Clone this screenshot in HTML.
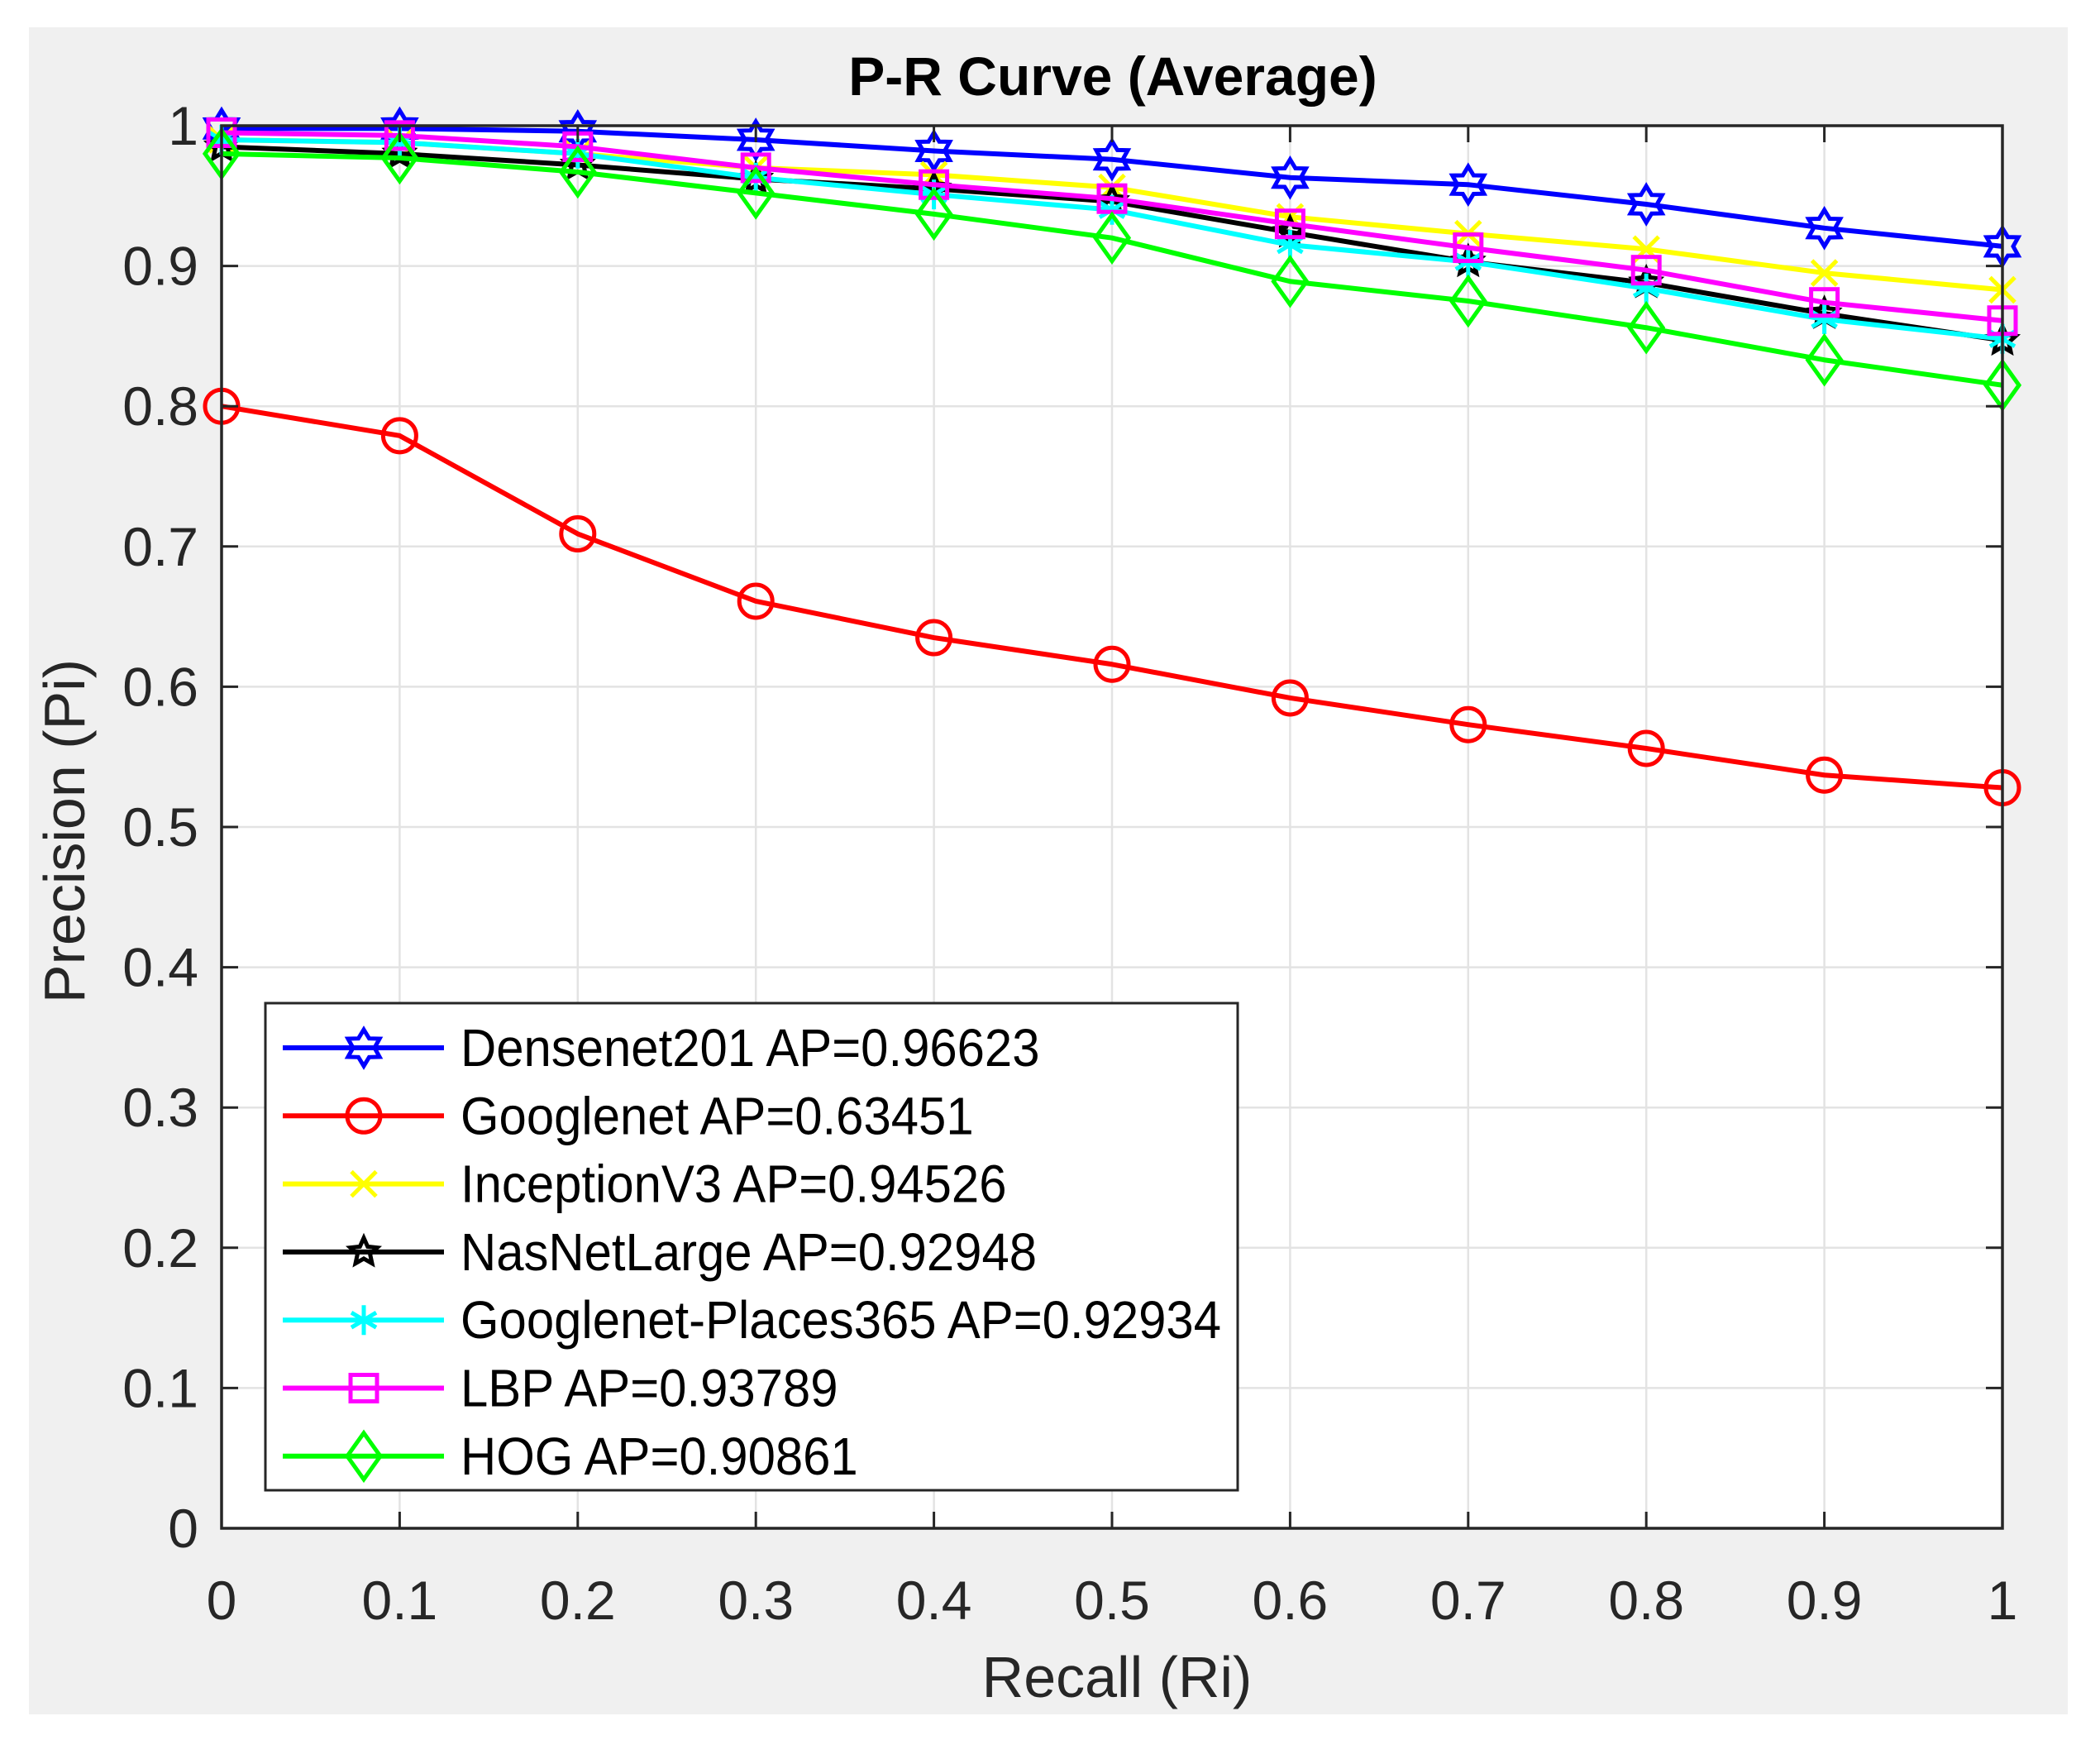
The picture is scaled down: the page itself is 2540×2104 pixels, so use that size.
<!DOCTYPE html>
<html><head><meta charset="utf-8"><style>
html,body{margin:0;padding:0;background:#fff;}
svg{display:block;font-family:"Liberation Sans",Arial,sans-serif;}
</style></head><body>
<svg id="chart" width="2540" height="2104" viewBox="0 0 2540 2104" xmlns="http://www.w3.org/2000/svg">
<rect x="35" y="33" width="2466" height="2040" fill="#f0f0f0"/>
<rect x="268" y="152" width="2154" height="1696" fill="#fff"/>
<g id="grid"></g>
<g id="series"></g>
<rect x="268" y="152" width="2154" height="1696" fill="none" stroke="#262626" stroke-width="3.5"/>
<g id="ticks"></g>
<text x="1346" y="115" text-anchor="middle" font-size="66" font-weight="bold" fill="#000">P-R Curve (Average)</text>
<text x="1351" y="2052" text-anchor="middle" font-size="70" fill="#262626">Recall (Ri)</text>
<text x="0" y="0" transform="translate(102,1005) rotate(-90)" text-anchor="middle" font-size="70" fill="#262626">Precision (Pi)</text>
<g id="legend"></g>
</svg>
<script>
const recall = [0,0.1,0.2,0.3,0.4,0.5,0.6,0.7,0.8,0.9,1];
const xTicks = ["0","0.1","0.2","0.3","0.4","0.5","0.6","0.7","0.8","0.9","1"];
const yTicks = ["0","0.1","0.2","0.3","0.4","0.5","0.6","0.7","0.8","0.9","1"];
const seriesNames = ["Densenet201 AP=0.96623","Googlenet AP=0.63451","InceptionV3 AP=0.94526","NasNetLarge AP=0.92948","Googlenet-Places365 AP=0.92934","LBP AP=0.93789","HOG AP=0.90861"];
const densenet = [0.998,0.998,0.996,0.990,0.982,0.976,0.963,0.958,0.944,0.927,0.914];
const googlenet = [0.800,0.779,0.709,0.661,0.635,0.616,0.592,0.573,0.556,0.537,0.528];
const inception = [0.990,0.988,0.980,0.970,0.965,0.956,0.935,0.923,0.912,0.895,0.883];
const nasnet = [0.985,0.980,0.972,0.962,0.955,0.946,0.924,0.903,0.888,0.866,0.847];
const places = [0.990,0.988,0.980,0.963,0.951,0.940,0.915,0.903,0.884,0.862,0.848];
const lbp = [0.995,0.993,0.985,0.970,0.958,0.948,0.930,0.913,0.897,0.874,0.861];
const hog = [0.980,0.977,0.967,0.952,0.937,0.920,0.889,0.875,0.856,0.833,0.815];

const NS="http://www.w3.org/2000/svg";
const L=268,R=2422,T=152,B=1848;
const xs=v=>L+v*(R-L);
const ys=v=>B-v*(B-T);
function mk(tag,attrs,parent){const e=document.createElementNS(NS,tag);for(const k in attrs)e.setAttribute(k,attrs[k]);parent.appendChild(e);return e;}
const grid=document.getElementById('grid'),ticks=document.getElementById('ticks');
xTicks.forEach((t,i)=>{const v=parseFloat(t);const x=xs(v);
  const g=mk('line',{x1:x,x2:x,y1:T,y2:B,stroke:'#e3e3e3','stroke-width':2.5},grid);
  
  
  const tk=mk('line',{x1:x,x2:x,y1:B,y2:B-20,stroke:'#262626','stroke-width':3},ticks);
  
  
  const tk2=mk('line',{x1:x,x2:x,y1:T,y2:T+20,stroke:'#262626','stroke-width':3},ticks);
  
  
  const tx=mk('text',{x:x,y:1958,'text-anchor':'middle','font-size':66,fill:'#262626'},ticks);tx.textContent=t;
  
  
});
yTicks.forEach((t,i)=>{const v=parseFloat(t);const y=ys(v);
  const g=mk('line',{x1:L,x2:R,y1:y,y2:y,stroke:'#e3e3e3','stroke-width':2.5},grid);
  
  
  const tk=mk('line',{x1:L,x2:L+20,y1:y,y2:y,stroke:'#262626','stroke-width':3},ticks);
  
  
  const tk2=mk('line',{x1:R,x2:R-20,y1:y,y2:y,stroke:'#262626','stroke-width':3},ticks);
  
  
  const tx=mk('text',{x:240,y:y+23,'text-anchor':'end','font-size':66,fill:'#262626'},ticks);tx.textContent=t;
  
  
});
function star(cx,cy,n,ro,ri){let p=[];for(let k=0;k<2*n;k++){const r=k%2?ri:ro;const a=-Math.PI/2+k*Math.PI/n;p.push((cx+r*Math.cos(a)).toFixed(1)+','+(cy+r*Math.sin(a)).toFixed(1));}return p.join(' ');}
function marker(type,cx,cy,color,parent){
  const sw=5;let e;
  if(type==='hex') e=mk('polygon',{points:star(cx,cy,6,22,13),fill:'none',stroke:color,'stroke-width':sw},parent);
  else if(type==='circle') e=mk('circle',{cx:cx,cy:cy,r:20,fill:'none',stroke:color,'stroke-width':sw},parent);
  else if(type==='x') e=mk('path',{d:`M${cx-15},${cy-15}L${cx+15},${cy+15}M${cx-15},${cy+15}L${cx+15},${cy-15}`,fill:'none',stroke:color,'stroke-width':sw},parent);
  else if(type==='pent') e=mk('polygon',{points:star(cx,cy,5,17,8),fill:'none',stroke:color,'stroke-width':sw},parent);
  else if(type==='ast') e=mk('path',{d:`M${cx},${cy-18}L${cx},${cy+18}M${cx-15},${cy-9}L${cx+15},${cy+9}M${cx-15},${cy+9}L${cx+15},${cy-9}`,fill:'none',stroke:color,'stroke-width':sw},parent);
  else if(type==='sq') e=mk('rect',{x:cx-16,y:cy-16,width:32,height:32,fill:'none',stroke:color,'stroke-width':sw},parent);
  else e=mk('polygon',{points:`${cx},${cy-28} ${cx+20},${cy} ${cx},${cy+28} ${cx-20},${cy}`,fill:'none',stroke:color,'stroke-width':sw},parent);
  return e;
}
const allData=[densenet,googlenet,inception,nasnet,places,lbp,hog];
const colors=['#0000ff','#ff0000','#ffff00','#000000','#00ffff','#ff00ff','#00ff00'];
const mtypes=['hex','circle','x','pent','ast','sq','dia'];
const keys=['densenet201','googlenet','inceptionv3','nasnetlarge','googlenet-places365','lbp','hog'];
const sg=document.getElementById('series');
allData.forEach((d,s)=>{
  const g=mk('g',{},sg);
  
  
  const pl=mk('polyline',{points:d.map((v,i)=>xs(recall[i])+','+ys(v)).join(' '),fill:'none',stroke:colors[s],'stroke-width':6,'stroke-linejoin':'round'},g);
  
  
  d.forEach((v,i)=>{const m=marker(mtypes[s],xs(recall[i]),ys(v),colors[s],g);
    
    });
});
const lg=document.getElementById('legend');
const box=mk('rect',{x:321,y:1213,width:1176,height:589,fill:'#fff',stroke:'#262626','stroke-width':3},lg);


seriesNames.forEach((n,s)=>{const y=1267+s*82.3;
  const g=mk('g',{},lg);
  
  
  mk('line',{x1:342,x2:537,y1:y,y2:y,stroke:colors[s],'stroke-width':6},g);
  marker(mtypes[s],440,y,colors[s],g);
  const t=mk('text',{x:557,y:y+22,'font-size':64,fill:'#000'},g);t.textContent=n;
  
  
});
const lbls=lg.querySelectorAll('text');const w=lbls[4].getComputedTextLength();const sc=920/w;
lbls.forEach(t=>{t.setAttribute('textLength',(t.getComputedTextLength()*sc).toFixed(1));t.setAttribute('lengthAdjust','spacingAndGlyphs');});
</script>
</body></html>
